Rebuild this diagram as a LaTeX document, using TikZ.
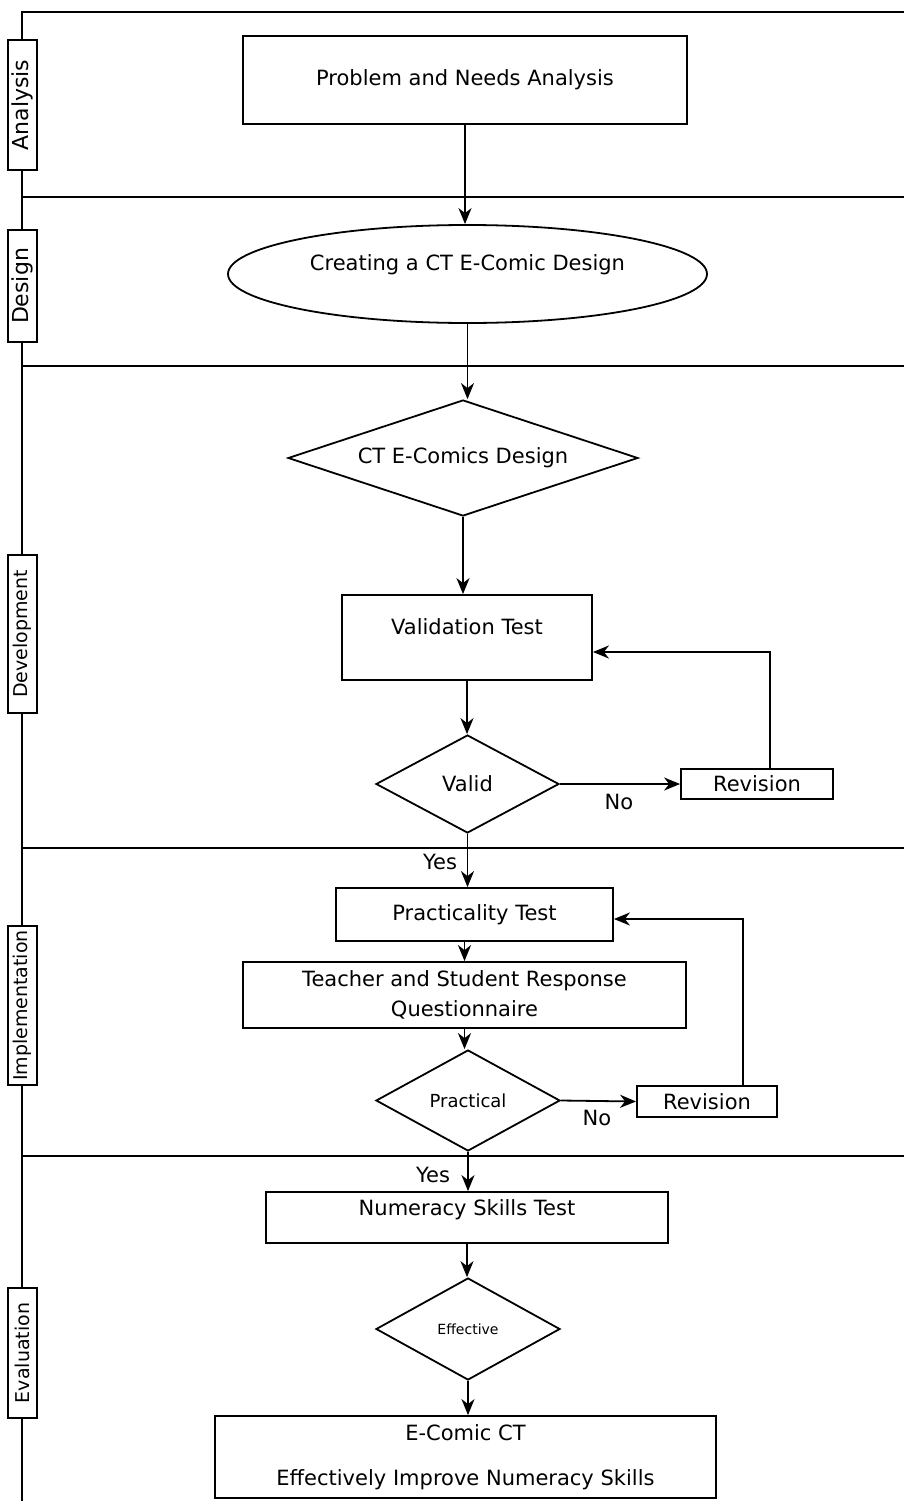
\documentclass[tikz,border=0pt]{standalone}
\usepackage{fontspec}
\setmainfont{DejaVu Sans}
\usepackage{tikz}
\usetikzlibrary{shapes.geometric,arrows.meta}

\begin{document}
\begin{tikzpicture}[x=1pt, y=-1pt, line width=1.8pt,
  every node/.style={font=\fontsize{21}{30}\selectfont, inner sep=1pt},
  box/.style={draw, rectangle},
  dec/.style={draw, diamond},
  lane/.style={draw, fill=white, rotate=90, minimum height=29pt, font=\fontsize{19}{19}\selectfont},
  arr/.style={-{Stealth[length=16pt,width=13pt,inset=5pt]}}]
\useasboundingbox (0,0) rectangle (904,1501);
\draw (22,1501) -- (22,12) -- (904,12);
\foreach \y in {197,366,848} \draw (22,\y) -- (904,\y);
\draw[line width=2.8pt] (22,1156) -- (904,1156);
\node[lane, minimum width=130pt, font=\fontsize{22}{22}\selectfont] (phA) at (22.5,105) {Analysis};
\node[lane, minimum width=112pt, font=\fontsize{22}{22}\selectfont] (phD) at (22.5,286) {Design};
\node[lane, minimum width=158pt] (phDev) at (22.5,634) {Development};
\node[lane, minimum width=159pt] (phI) at (22.5,1005.5) {Implementation};
\node[lane, minimum width=130pt] (phE) at (22.5,1353) {Evaluation};

\node[box, minimum width=444pt, minimum height=88pt] (needs) at (465,80) {Problem and Needs Analysis};
\node[draw, ellipse, minimum width=479pt, minimum height=98pt, text depth=23pt] (design) at (467.5,274) {Creating a CT E-Comic Design};
\node[dec, aspect=3, minimum width=350pt, minimum height=116pt] (ctd) at (463,458) {CT E-Comics Design};
\node[box, minimum width=250pt, minimum height=85pt, text depth=21pt] (valtest) at (467,637.5) {Validation Test};
\node[dec, aspect=1.8, minimum width=183pt, minimum height=98pt] (valid) at (467.5,784) {Valid};
\node[box, minimum width=152pt, minimum height=30pt] (rev1) at (757,784) {Revision};
\node[box, minimum width=277pt, minimum height=53pt] (practest) at (474.5,914.5) {Practicality Test};
\node[box, minimum width=443pt, minimum height=66pt, align=center] (quest) at (464.5,995) {Teacher and Student Response\\Questionnaire};
\node[dec, aspect=1.8, minimum width=184pt, minimum height=101pt, font=\fontsize{18}{22}\selectfont] (practical) at (468,1100.5) {Practical};
\node[box, minimum width=140pt, minimum height=31pt] (rev2) at (707,1101.5) {Revision};
\node[box, minimum width=402pt, minimum height=51pt, text depth=19pt] (numtest) at (467,1217.5) {Numeracy Skills Test};
\node[dec, aspect=1.8, minimum width=184pt, minimum height=102pt, font=\fontsize{14}{17}\selectfont] (effective) at (468,1329) {Effective};
\node[box, minimum width=501pt, minimum height=82pt, align=center, font=\fontsize{21}{45}\selectfont] (result) at (465.5,1457) {E-Comic CT\\Effectively Improve Numeracy Skills};

\node (yes1) at (440,862) {Yes};
\node (no1) at (619,802) {No};
\node (no2) at (597,1118) {No};
\node (yes2) at (433,1175) {Yes};

\draw[arr] (needs) -- (needs |- design.north);
\draw[arr] (design) -- (design |- ctd.north);
\draw[arr] (ctd) -- (ctd |- valtest.north);
\draw[arr] (valtest) -- (valtest |- valid.north);
\draw[arr] (valid) -- (valid |- practest.north);
\draw[arr] (valid.east) -- (rev1.west);
\draw[arr] ([xshift=13pt]rev1.north) |- ([yshift=-14.5pt]valtest.east);
\draw[arr] (practest.south -| quest) -- (quest.north);
\draw[arr] (quest) -- (quest |- practical.north);
\draw[arr] (practical.east) -- (rev2.west);
\draw[arr] ([xshift=36pt]rev2.north) |- ([yshift=-4.5pt]practest.east);
\draw[arr] (practical) -- (practical |- numtest.north);
\draw[arr] (numtest) -- (numtest |- effective.north);
\draw[arr] (effective) -- (effective |- result.north);
\end{tikzpicture}
\end{document}
